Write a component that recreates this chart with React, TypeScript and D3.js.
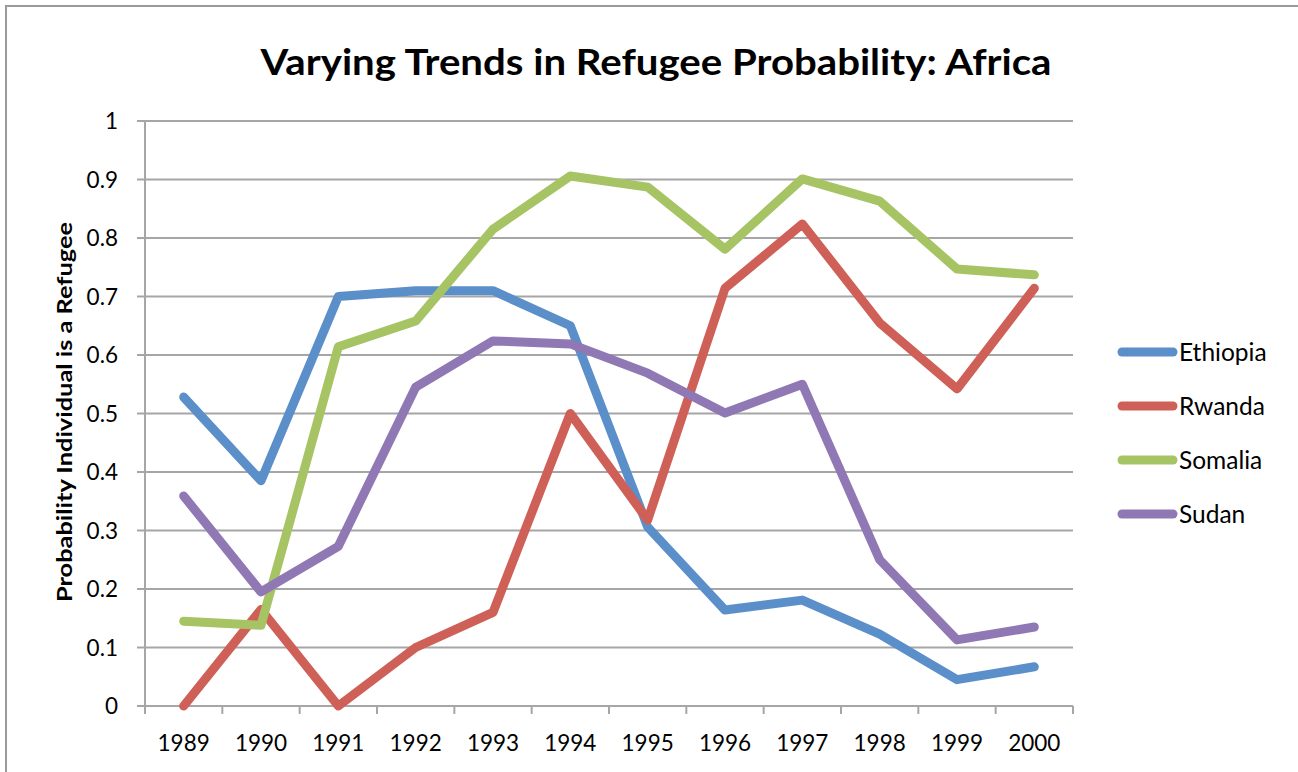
import React from "react";
import * as d3 from "d3";

const years = ["1989","1990","1991","1992","1993","1994","1995","1996","1997","1998","1999","2000"];
const ethiopia = [0.528,0.385,0.70,0.71,0.71,0.65,0.306,0.164,0.181,0.123,0.045,0.067];
const rwanda = [0.0,0.165,0.0,0.1,0.16,0.5,0.318,0.714,0.824,0.655,0.542,0.714];
const somalia = [0.145,0.138,0.614,0.658,0.815,0.906,0.887,0.781,0.901,0.863,0.747,0.737];
const sudan = [0.359,0.195,0.273,0.545,0.624,0.619,0.569,0.501,0.55,0.25,0.113,0.135];
const seriesNames = ["Ethiopia","Rwanda","Somalia","Sudan"];
const seriesColors = ["#5b8fc9","#cf6058","#a7c465","#8f78b3"];
const yTicks = [0,0.1,0.2,0.3,0.4,0.5,0.6,0.7,0.8,0.9,1];
const title = "Varying Trends in Refugee Probability: Africa";
const yTitle = "Probability Individual is a Refugee";

const FONT = "Lato, 'Open Sans', sans-serif";

export default function App() {
  const W = 1298, H = 772;
  const left = 145, right = 1073, top = 121, bottom = 706;
  const x = d3.scaleBand<string>().domain(years).range([left, right]);
  const y = d3.scaleLinear().domain([0, 1]).range([bottom, top]);
  const data = [ethiopia, rwanda, somalia, sudan];
  const line = d3.line<number>()
    .x((_, i) => (x(years[i]) as number) + x.bandwidth() / 2)
    .y((d) => y(d));
  const grid = "#a6a6a6";
  const legendY = [352, 406, 460, 514];
  return (
    <svg width={W} height={H} style={{ position: "absolute", left: 0, top: 0, background: "#fff" }}>
      <rect x={6} y={6} width={W + 10} height={H + 10} fill="#fff" stroke="#9a9a9a" strokeWidth={2} />
      <text x={656} y={75} textAnchor="middle" fontFamily={FONT} fontWeight="bold" fontSize={36}
        textLength={791} lengthAdjust="spacingAndGlyphs" fill="#000">{title}</text>
      {yTicks.map((t) => (
        <g key={t}>
          <line x1={137} x2={right} y1={y(t)} y2={y(t)} stroke={grid} strokeWidth={2} />
          <text x={118} y={y(t) + 8} textAnchor="end" fontFamily={FONT} fontSize={22.5} fill="#000">{String(t)}</text>
        </g>
      ))}
      <line x1={left} x2={left} y1={top} y2={bottom + 8} stroke={grid} strokeWidth={2} />
      {years.map((yr) => (
        <line key={"t" + yr} x1={(x(yr) as number) + x.bandwidth()} x2={(x(yr) as number) + x.bandwidth()}
          y1={bottom} y2={bottom + 8} stroke={grid} strokeWidth={2} />
      ))}
      {years.map((yr) => (
        <text key={yr} x={(x(yr) as number) + x.bandwidth() / 2} y={751} textAnchor="middle"
          fontFamily={FONT} fontSize={22.5} fill="#000">{yr}</text>
      ))}
      <text transform={`translate(72,412) rotate(-90)`} textAnchor="middle" fontFamily={FONT}
        fontWeight="bold" fontSize={20} textLength={380} lengthAdjust="spacingAndGlyphs" fill="#000">{yTitle}</text>
      {data.map((s, k) => (
        <path key={k} d={line(s) as string} fill="none" stroke={seriesColors[k]} strokeWidth={9}
          strokeLinejoin="round" strokeLinecap="round" />
      ))}
      {seriesNames.map((n, k) => (
        <g key={n}>
          <line x1={1122} x2={1173} y1={legendY[k]} y2={legendY[k]} stroke={seriesColors[k]} strokeWidth={9} strokeLinecap="round" />
          <text x={1179} y={legendY[k] + 9} fontFamily={FONT} fontSize={24.5} fill="#000">{n}</text>
        </g>
      ))}
    </svg>
  );
}
